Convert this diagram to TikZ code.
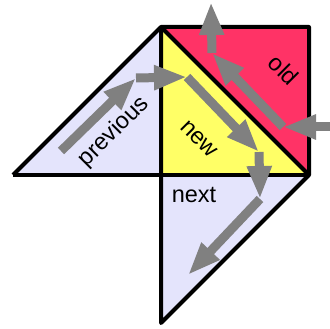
\documentclass[tikz,border=0pt]{standalone}
\usepackage{fontspec}
\setmainfont{Liberation Sans}
\usetikzlibrary{arrows.meta}
\definecolor{lav}{RGB}{228,228,252}
\definecolor{rosered}{RGB}{255,51,102}
\definecolor{lemon}{RGB}{255,255,102}
\definecolor{arrgray}{RGB}{128,128,128}
\begin{document}
\begin{tikzpicture}[x=1pt,y=-1pt,
  edge/.style={draw=black,line width=4pt,line join=round},
  garrow/.style={draw=arrgray,line width=9pt,-{Triangle[length=33pt,width=23pt]}},
  lbl/.style={font=\fontsize{23.5}{28}\selectfont,inner sep=0pt,text=black}]
\clip (0,0) rectangle (330,329);
% shapes
\fill[lav] (13,175) -- (161,27) -- (161,175) -- cycle;
\fill[lav] (161,175) -- (309,175) -- (161,323) -- cycle;
\fill[lemon] (161,27) -- (309,175) -- (161,175) -- cycle;
\fill[rosered] (161,27) -- (309,27) -- (309,175) -- cycle;
\draw[edge] (13,175) -- (161,27) -- (309,27) -- (309,175) -- (161,323) -- (161,27);
\draw[edge] (13,175) -- (309,175);
\draw[edge] (161,27) -- (309,175);
% labels
\node[lbl,rotate=45] (prev) at (114,132) {previous};
\node[lbl,rotate=-45] (new) at (199,139) {new};
\node[lbl,rotate=-45] (old) at (284,70) {old};
\node[lbl] (next) at (194,195) {next};
% arrow chain
\coordinate (p1) at (61,151);
\coordinate (p2) at (136,78);
\coordinate (p3) at (187,77);
\coordinate (p4) at (259,152);
\coordinate (p5) at (260,199);
\coordinate (p6) at (188,275);
\coordinate (q0) at (350,127);
\coordinate (q1) at (283,127);
\coordinate (q2) at (212,53);
\coordinate (q3) at (211,2);
\draw[garrow] (p1) -- (p2);
\draw[garrow] (p2) -- (p3);
\draw[garrow] (p3) -- (p4);
\draw[garrow] (p4) -- (p5);
\draw[garrow] (p5) -- (p6);
\draw[garrow] (q0) -- (q1);
\draw[garrow] (q1) -- (q2);
\draw[garrow] (q2) -- (q3);
\end{tikzpicture}
\end{document}
